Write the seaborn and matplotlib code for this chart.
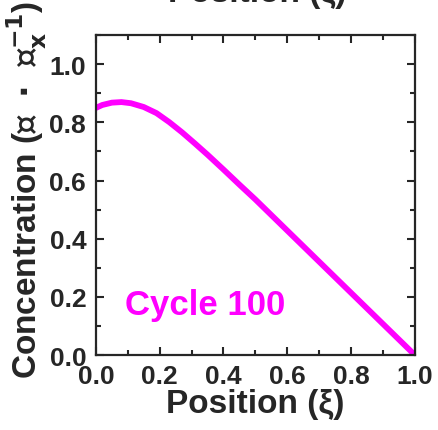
import numpy as np
import pandas as pd
import matplotlib
matplotlib.use("Agg")
import matplotlib.pyplot as plt
import seaborn as sns
from matplotlib.ticker import MultipleLocator

sns.set_theme(style="ticks")
plt.rcParams["font.family"] = ["Liberation Sans", "DejaVu Sans"]
plt.rcParams["font.weight"] = "bold"
plt.rcParams["mathtext.fontset"] = "dejavusans"

# concentration profile (cycle 100)
position = [0.0, 0.02, 0.05, 0.08, 0.11, 0.15, 0.19, 0.23, 0.27, 0.31, 0.35,
            0.40, 0.45, 0.50, 0.60, 0.70, 0.80, 0.90, 1.0]
concentration = [0.850, 0.860, 0.868, 0.870, 0.866, 0.853, 0.832, 0.801, 0.766, 0.728, 0.689,
                 0.638, 0.586, 0.535, 0.428, 0.321, 0.214, 0.107, 0.0]
x_ticks = [0.0, 0.2, 0.4, 0.6, 0.8, 1.0]
y_ticks = [0.0, 0.2, 0.4, 0.6, 0.8, 1.0]
cycle_label = "Cycle 100"
line_color = "#ff00ff"

df = pd.DataFrame({"Position": position, "Concentration": concentration})

fig = plt.figure(figsize=(4.38, 4.31), dpi=100)
ax = fig.add_axes([0.219, 0.174, 0.728, 0.742])

sns.lineplot(data=df, x="Position", y="Concentration", color=line_color,
             linewidth=4.2, ax=ax)

ax.set_xlim(0, 1.0)
ax.set_ylim(0, 1.1)
ax.set_xticks(x_ticks, [f"{v:.1f}" for v in x_ticks], fontsize=19, fontweight="bold")
ax.set_yticks(y_ticks, [f"{v:.1f}" for v in y_ticks], fontsize=19, fontweight="bold")
ax.xaxis.set_minor_locator(MultipleLocator(0.1))
ax.yaxis.set_minor_locator(MultipleLocator(0.1))
ax.tick_params(which="both", direction="in", top=True, right=True, width=1.5)
ax.tick_params(axis="x", which="major", length=6, pad=6.5)
ax.tick_params(axis="y", which="major", length=6, pad=7)
ax.tick_params(which="minor", length=3.5)
for sp in ax.spines.values():
    sp.set_linewidth(1.6)

ax.set_xlabel("Position (ξ)", fontsize=24, fontweight="bold", labelpad=0)
ax.set_ylabel(r"Concentration ($\mathbb{c}\ \cdot\ \mathbb{c}_{\mathrm{x}}^{-1}$)",
              fontsize=24, fontweight="bold")
ax.yaxis.set_label_coords(-0.148, 0.52)

ax.text(0.091, 0.14, cycle_label, color=line_color, fontsize=25,
        fontweight="bold", va="baseline", ha="left")

# label of the panel above, cut by the figure edge
fig.text(0.587, 0.995, "Position (ξ)", fontsize=24, fontweight="bold",
         ha="center", va="baseline")

fig.savefig("out.png", dpi=100)
